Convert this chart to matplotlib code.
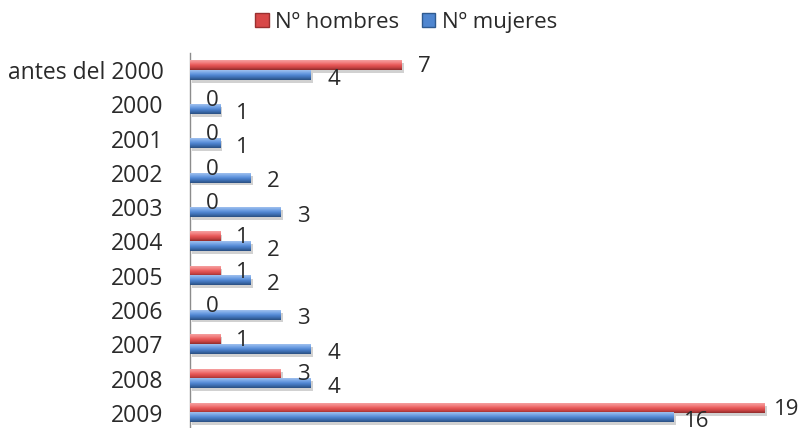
import numpy as np
import matplotlib
matplotlib.use("Agg")
import matplotlib.pyplot as plt
from matplotlib.colors import LinearSegmentedColormap
from matplotlib.patches import Patch
import matplotlib.patheffects as pe

plt.rcParams['font.family'] = ['Open Sans', 'DejaVu Sans']

categories = ["antes del 2000", "2000", "2001", "2002", "2003", "2004",
              "2005", "2006", "2007", "2008", "2009"]
hombres = [7, 0, 0, 0, 0, 1, 1, 0, 1, 3, 19]
mujeres = [4, 1, 1, 2, 3, 2, 2, 3, 4, 4, 16]

red_cmap = LinearSegmentedColormap.from_list(
    "red3d", ["#8E2C2C", "#C94444", "#E85858", "#F28080", "#F5A0A0"])
blue_cmap = LinearSegmentedColormap.from_list(
    "blue3d", ["#2A4F80", "#3D6DB0", "#5288D4", "#78A6E6", "#A0C0EE"])

fig = plt.figure(figsize=(8.09, 4.28), dpi=100)
ax = fig.add_axes([190 / 809, -2 / 428, 605 / 809, 377 / 428])

n = len(categories)
pos = np.arange(n)[::-1]
bh = 0.28
off = 0.14

shadow = [pe.SimplePatchShadow(offset=(1.5, -2), shadow_rgbFace="#999999", alpha=0.45),
          pe.Normal()]
bars_h = ax.barh(pos + off, hombres, height=bh, color="#E05050",
                 path_effects=shadow, zorder=2)
bars_m = ax.barh(pos - off, mujeres, height=bh, color="#4F86D0",
                 path_effects=shadow, zorder=2)

grad = np.linspace(0, 1, 64).reshape(-1, 1)
for bars, cmap in ((bars_h, red_cmap), (bars_m, blue_cmap)):
    for b in bars:
        w = b.get_width()
        if w <= 0:
            continue
        x0, y0, h = b.get_x(), b.get_y(), b.get_height()
        ax.imshow(grad, extent=[x0, x0 + w, y0, y0 + h], origin="lower",
                  aspect="auto", cmap=cmap, zorder=3, interpolation="bilinear")

# value labels
txt_color = "#2A2A2A"
fs = 16
for p, v in zip(pos, hombres):
    ax.text(v + 0.74, p + off - 0.03, str(v), ha="center", va="center",
            fontsize=fs, color=txt_color, zorder=5)
for p, v in zip(pos, mujeres):
    ax.text(v + 0.74, p - off - 0.12, str(v), ha="center", va="center",
            fontsize=fs, color=txt_color, zorder=5)

ax.set_xlim(0, 20)
ax.set_ylim(-0.5, n - 0.5)
ax.set_yticks(pos)
ax.set_yticklabels(categories, fontsize=16.5, color=txt_color)
ax.tick_params(axis="y", length=0, pad=19)
ax.set_xticks([])
for s in ("top", "right", "bottom"):
    ax.spines[s].set_visible(False)
ax.spines["left"].set_color("#8C8C8C")
ax.spines["left"].set_linewidth(1.0)

handles = [Patch(facecolor="#D84848", edgecolor="#9A3030", label="Nº hombres"),
           Patch(facecolor="#4F86D0", edgecolor="#2E5A90", label="Nº mujeres")]
fig.legend(handles=handles, loc="center", bbox_to_anchor=(406 / 809, 1 - 22 / 428),
           ncol=2, frameon=False, fontsize=16, handlelength=0.6, handleheight=0.6,
           handletextpad=0.3, columnspacing=1.0, labelcolor=txt_color)

fig.savefig("out.png", dpi=100)
